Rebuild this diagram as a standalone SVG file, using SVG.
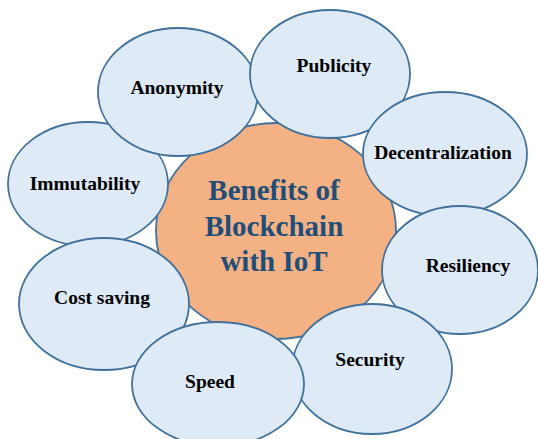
<svg xmlns="http://www.w3.org/2000/svg" width="538" height="439" viewBox="0 0 538 439">
<style>
.sat{fill:#DEEAF6;stroke:#41719C;stroke-width:1.8}
.hub{fill:#F4B183;stroke:#41719C;stroke-width:1.8}
.lbl{font-family:"Liberation Serif","Times New Roman",serif;font-weight:bold;font-size:19.5px;fill:#000;text-anchor:middle}
.title{font-family:"Liberation Serif","Times New Roman",serif;font-weight:bold;font-size:29px;fill:#1F4E79;text-anchor:middle}
</style>
<rect width="538" height="439" fill="#fff"/>
<g id="connectors"/>
<g id="hub">
<ellipse class="hub" cx="276" cy="231" rx="120" ry="108"/>
<text class="title" x="274" y="200">Benefits of</text>
<text class="title" x="274" y="236">Blockchain</text>
<text class="title" x="274" y="271">with IoT</text>
</g>
<g id="immutability">
<ellipse class="sat" cx="88" cy="184" rx="80" ry="62"/>
<text class="lbl" x="85" y="190">Immutability</text>
</g>
<g id="anonymity">
<ellipse class="sat" cx="178" cy="92" rx="80" ry="64"/>
<text class="lbl" x="177" y="94">Anonymity</text>
</g>
<g id="publicity">
<ellipse class="sat" cx="330" cy="74" rx="80" ry="64"/>
<text class="lbl" x="334" y="72">Publicity</text>
</g>
<g id="decentralization">
<ellipse class="sat" cx="445" cy="154" rx="82" ry="62"/>
<text class="lbl" x="443" y="159">Decentralization</text>
</g>
<g id="resiliency">
<ellipse class="sat" cx="460" cy="270" rx="78" ry="64"/>
<text class="lbl" x="468" y="272">Resiliency</text>
</g>
<g id="security">
<ellipse class="sat" cx="372" cy="369" rx="80" ry="65"/>
<text class="lbl" x="370" y="366">Security</text>
</g>
<g id="cost-saving">
<ellipse class="sat" cx="104" cy="304" rx="85" ry="66"/>
<text class="lbl" x="102" y="304">Cost saving</text>
</g>
<g id="speed">
<ellipse class="sat" cx="218" cy="384" rx="86" ry="62"/>
<text class="lbl" x="210" y="388">Speed</text>
</g>
</svg>
